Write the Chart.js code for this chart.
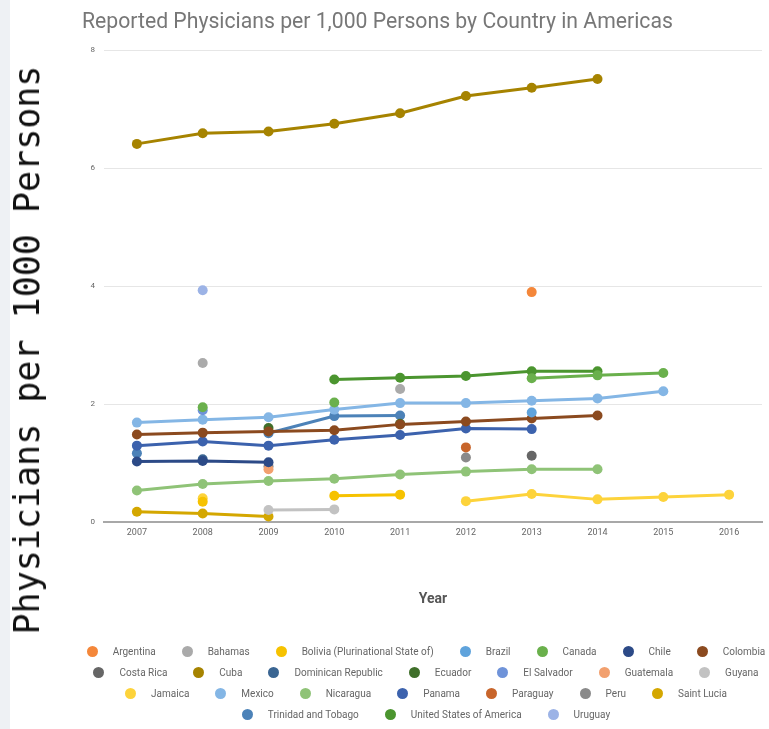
<!DOCTYPE html>
<html>
<head>
<meta charset="utf-8">
<script src="https://cdn.jsdelivr.net/npm/chart.js@4"></script>
<style>
  html, body { margin: 0; padding: 0; background: #eef1f4; }
  #wrap { position: absolute; left: 10px; top: 0; width: 759px; height: 729px; background: #fff; }
  #chart { position: absolute; left: 0; top: 0; }
  #title {
    position: absolute; left: 82px; top: 8px; line-height: 26px;
    font-family: Roboto, sans-serif; font-size: 21.2px; color: #777; white-space: nowrap;
  }
  #ytitle {
    position: absolute; left: 27px; top: 350px; width: max-content;
    transform: translate(-50%, -50%) rotate(-90deg);
    font-family: "DejaVu Sans Mono", monospace; font-size: 35px; color: #111;
    white-space: nowrap;
  }
  #legend { position: absolute; left: 46px; top: 641px; width: 760px; }
  #legend .row { display: flex; justify-content: center; height: 21px; align-items: center; }
  #legend .item { display: flex; align-items: center; margin: 0 13px;
    font-family: Roboto, sans-serif; font-size: 10px; color: #666; white-space: nowrap; }
  #legend .dot { width: 11px; height: 11px; border-radius: 50%; margin-right: 15px; }
</style>
</head>
<body>
<div id="wrap"><canvas id="chart" width="759" height="729"></canvas></div>
<div id="title">Reported Physicians per 1,000 Persons by Country in Americas</div>
<div id="ytitle">Physicians per 1000 Persons</div>
<div id="legend"></div>
<script>
// 연도 (x축)
const YEARS = ['2007', '2008', '2009', '2010', '2011', '2012', '2013', '2014', '2015', '2016'];

// 국가별 값 (1,000명당 의사 수), 빈 해는 null
const argentina  = [null, null, null, null, null, null, 3.9, null, null, null];
const bahamas    = [null, 2.7, null, null, 2.26, null, null, null, null, null];
const bolivia    = [null, 0.35, null, 0.45, 0.47, null, null, null, null, null];
const brazil     = [null, null, null, null, null, null, 1.86, null, null, null];
const canada     = [null, 1.95, null, 2.03, null, null, 2.44, 2.49, 2.53, null];
const chile      = [1.03, 1.04, 1.02, null, null, null, null, null, null, null];
const colombia   = [1.49, 1.52, 1.54, 1.56, 1.66, 1.71, 1.76, 1.81, null, null];
const costaRica  = [null, null, null, null, null, null, 1.13, null, null, null];
const cuba       = [6.41, 6.59, 6.62, 6.75, 6.93, 7.22, 7.36, 7.51, null, null];
const dominican  = [null, 1.07, null, null, null, null, null, null, null, null];
const ecuador    = [null, null, 1.6, null, 1.67, null, null, null, null, null];
const elSalvador = [null, 1.9, null, null, null, null, null, null, null, null];
const guatemala  = [null, null, 0.9, null, null, null, null, null, null, null];
const guyana     = [null, null, 0.21, 0.22, null, null, null, null, null, null];
const jamaica    = [null, 0.41, null, null, null, 0.36, 0.48, 0.39, 0.43, 0.47];
const mexico     = [1.69, 1.74, 1.78, 1.91, 2.02, 2.02, 2.06, 2.1, 2.22, null];
const nicaragua  = [0.54, 0.65, 0.7, 0.74, 0.81, 0.86, 0.9, 0.9, null, null];
const panama     = [1.3, 1.37, 1.3, 1.4, 1.48, 1.59, 1.58, null, null, null];
const paraguay   = [null, null, null, null, null, 1.27, null, null, null, null];
const peru       = [null, null, 0.95, null, null, 1.1, null, null, null, null];
const saintLucia = [0.18, 0.15, 0.1, null, null, null, null, null, null, null];
const trinidad   = [1.17, null, 1.51, 1.8, 1.81, null, null, null, null, null];
const usa        = [null, null, null, 2.42, 2.45, 2.48, 2.56, 2.56, null, null];
const uruguay    = [null, 3.93, null, null, null, null, null, null, null, null];

const SERIES = [
  ['Argentina', argentina, '#f4873a'],
  ['Bahamas', bahamas, '#aaaaaa'],
  ['Bolivia (Plurinational State of)', bolivia, '#f6c200'],
  ['Brazil', brazil, '#5fa3dc'],
  ['Canada', canada, '#6ab04c'],
  ['Chile', chile, '#2c4a87'],
  ['Colombia', colombia, '#8b4a1f'],
  ['Costa Rica', costaRica, '#666666'],
  ['Cuba', cuba, '#a68300'],
  ['Dominican Republic', dominican, '#3a6592'],
  ['Ecuador', ecuador, '#3f6f2a'],
  ['El Salvador', elSalvador, '#6f93d9'],
  ['Guatemala', guatemala, '#f2a06e'],
  ['Guyana', guyana, '#c2c2c2'],
  ['Jamaica', jamaica, '#fdd33b'],
  ['Mexico', mexico, '#84b6e5'],
  ['Nicaragua', nicaragua, '#8fc377'],
  ['Panama', panama, '#3c62ad'],
  ['Paraguay', paraguay, '#c8652b'],
  ['Peru', peru, '#8a8a8a'],
  ['Saint Lucia', saintLucia, '#d4a700'],
  ['Trinidad and Tobago', trinidad, '#4c82b8'],
  ['United States of America', usa, '#4b952f'],
  ['Uruguay', uruguay, '#9cb3e6'],
];

const chart = new Chart(document.getElementById('chart'), {
  type: 'line',
  data: {
    labels: YEARS,
    datasets: SERIES.map(([name, data, color]) => ({
      label: name, data,
      borderColor: color, backgroundColor: color,
      pointBackgroundColor: color, pointBorderColor: color,
      borderWidth: 3, pointRadius: 5, pointBorderWidth: 0,
      tension: 0, spanGaps: false,
    })),
  },
  options: {
    responsive: false, animation: false,
    layout: { padding: { left: 0, right: 7, top: 50, bottom: 121 } },
    plugins: {
      legend: { display: false },
      tooltip: { enabled: false },
    },
    scales: {
      x: {
        offset: true,
        grid: { display: false, drawTicks: false },
        border: { color: '#a8a8a8', width: 2 },
        ticks: { color: '#666', font: { family: 'Roboto', size: 9 }, padding: 5 },
        title: { display: true, text: 'Year', color: '#555',
          font: { family: 'Roboto', size: 14, weight: 'bold' }, padding: { top: 48, bottom: 0 } },
      },
      y: {
        min: 0, max: 8,
        afterFit: (s) => { s.width = 94; },
        ticks: { stepSize: 2, color: '#666', font: { family: 'Roboto', size: 8 }, padding: 9 },
        grid: { color: '#e6e6e6', drawTicks: false },
        border: { display: false },
      },
    },
  },
});

// 범례 — 한 줄에 7개씩
const $legend = document.getElementById('legend');
const items = chart.data.datasets.map((d) => [d.label, d.borderColor]);
for (let i = 0; i < items.length; i += 7) {
  const row = document.createElement('div');
  row.className = 'row';
  row.innerHTML = items.slice(i, i + 7).map(([name, color]) =>
    `<span class="item"><span class="dot" style="background:${color}"></span>${name}</span>`).join('');
  $legend.appendChild(row);
}
</script>
</body>
</html>
